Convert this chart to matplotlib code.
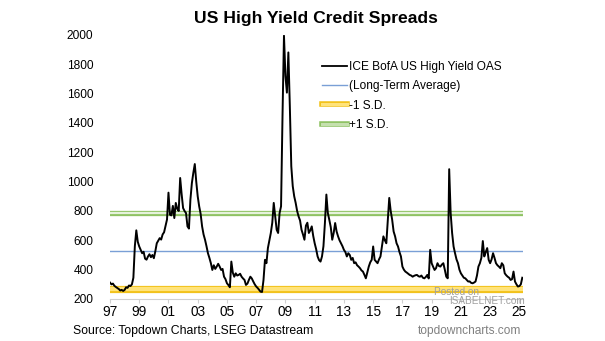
import numpy as np
import matplotlib
matplotlib.use("Agg")
import matplotlib.pyplot as plt
import matplotlib.patheffects as pe

plt.rcParams["font.family"] = ["Liberation Sans", "DejaVu Sans"]

# ICE BofA US High Yield OAS (bp), every 0.1 year from 1997.0
start_year = 1997.0
step = 0.1
oas = [
    312, 300, 305, 290, 282, 275, 268, 258, 262, 255,          # 1997
    262, 280, 276, 292, 288, 300, 345, 560, 668, 590,          # 1998
    558, 535, 512, 522, 475, 468, 490, 505, 485, 500,          # 1999
    478, 525, 580, 598, 615, 605, 640, 655, 700, 742,          # 2000
    925, 775, 770, 835, 752, 855, 815, 800, 1025, 915,         # 2001
    820, 800, 786, 695, 680, 877, 990, 1060, 1120, 1000,       # 2002
    900, 832, 780, 695, 640, 604, 560, 512, 480, 444,          # 2003
    398, 430, 405, 421, 440, 421, 398, 405, 352, 335,          # 2004
    307, 295, 280, 455, 380, 352, 375, 360, 364, 372,          # 2005
    352, 340, 330, 296, 305, 330, 352, 340, 319, 300,          # 2006
    285, 275, 262, 250, 248, 330, 467, 444, 547, 600,          # 2007
    650, 720, 855, 763, 672, 650, 786, 832, 1448, 1995,        # 2008
    1721, 1607, 1881, 1516, 1105, 969, 900, 855, 800, 763,     # 2009
    735, 672, 640, 604, 700, 720, 650, 668, 695, 630,          # 2010
    580, 540, 490, 465, 455, 490, 560, 718, 912, 786,          # 2011
    740, 690, 604, 650, 718, 660, 627, 600, 580, 560,          # 2012
    535, 520, 490, 512, 500, 467, 480, 444, 450, 430,          # 2013
    421, 410, 395, 387, 365, 341, 380, 421, 450, 467,          # 2014
    558, 467, 455, 444, 470, 490, 560, 627, 600, 580,          # 2015
    740, 889, 800, 740, 660, 627, 580, 558, 520, 490,          # 2016
    421, 400, 387, 380, 372, 364, 360, 352, 358, 362,          # 2017
    364, 355, 352, 360, 345, 341, 350, 364, 340, 535,          # 2018
    444, 420, 398, 410, 444, 425, 421, 435, 444, 400,          # 2019
    352, 341, 1085, 786, 650, 558, 512, 470, 444, 400,         # 2020
    375, 360, 345, 341, 330, 319, 320, 310, 307, 312,          # 2021
    319, 360, 421, 444, 480, 595, 490, 520, 547, 467,          # 2022
    444, 470, 512, 480, 444, 430, 421, 410, 444, 430,          # 2023
    375, 362, 352, 345, 330, 335, 387, 319, 300, 285,          # 2024
    288, 300, 345,                                             # 2025
]
long_term_avg = 528
sd_minus = 270
sd_plus = 785

tick_years = list(range(1997, 2026, 2))
tick_labels = [f"{y % 100:02d}" for y in tick_years]
y_ticks = list(range(200, 2001, 200))

years = start_year + step * np.arange(len(oas))

fig = plt.figure(figsize=(6.05, 3.41), dpi=100)
ax = fig.add_axes([0.1818, 0.1232, 0.6827, 0.7742])

ax.axhline(sd_minus, color="#ffe37a", lw=3.0, zorder=2,
           path_effects=[pe.Stroke(linewidth=5.2, foreground="#f2c21b"), pe.Normal()])
ax.axhline(sd_plus, color="#e6f2dc", lw=1.6, zorder=2,
           path_effects=[pe.Stroke(linewidth=3.8, foreground="#8fc263"), pe.Normal()])
ax.axhline(long_term_avg, color="#7a9fd6", lw=1.0, zorder=2)
ax.plot(years, oas, color="black", lw=1.4, zorder=3)

# legend handles
h1, = ax.plot([], [], color="black", lw=1.3, label="ICE BofA US High Yield OAS")
h2, = ax.plot([], [], color="#7a9fd6", lw=1.0, label="(Long-Term Average)")
h3, = ax.plot([], [], color="#ffe37a", lw=2.2, label="-1 S.D.",
              path_effects=[pe.Stroke(linewidth=4.0, foreground="#f2c21b"), pe.Normal()])
h4, = ax.plot([], [], color="#c5e0ae", lw=2.2, label="+1 S.D.",
              path_effects=[pe.Stroke(linewidth=4.0, foreground="#8fc263"), pe.Normal()])
fig.legend(handles=[h1, h2, h3, h4], loc="upper left", bbox_to_anchor=(0.532, 0.822),
           frameon=False, fontsize=8.6, handlelength=2.1, handletextpad=0.15,
           labelspacing=0.62, borderpad=0, borderaxespad=0)

ax.set_xlim(1997.0, 2025.25)
ax.set_ylim(200, 2000)
ax.set_yticks(y_ticks)
ax.set_xticks(tick_years)
ax.set_xticklabels(tick_labels)
ax.tick_params(axis="y", length=0, pad=12, labelsize=8.6)
ax.tick_params(axis="x", length=3, color="#d0d0d0", pad=1, labelsize=9.8)
for s in ["top", "right", "left"]:
    ax.spines[s].set_visible(False)
ax.spines["bottom"].set_color("#d0d0d0")
ax.spines["bottom"].set_linewidth(0.8)

fig.text(0.522, 0.947, "US High Yield Credit Spreads", ha="center", va="center",
         fontsize=12.6, fontweight="bold")
fig.text(0.121, 0.030, "Source: Topdown Charts, LSEG Datastream", ha="left", va="center",
         fontsize=8.8)
fig.text(0.862, 0.030, "topdowncharts.com", ha="right", va="center",
         fontsize=8.6, color="#808080")
fig.text(0.717, 0.145, "Posted on", ha="left", va="center", fontsize=7.2, color="#a0a0a0")
fig.text(0.742, 0.118, "ISABELNET.com", ha="left", va="center", fontsize=7.2, color="#a0a0a0")

fig.savefig("out.png", dpi=100)
